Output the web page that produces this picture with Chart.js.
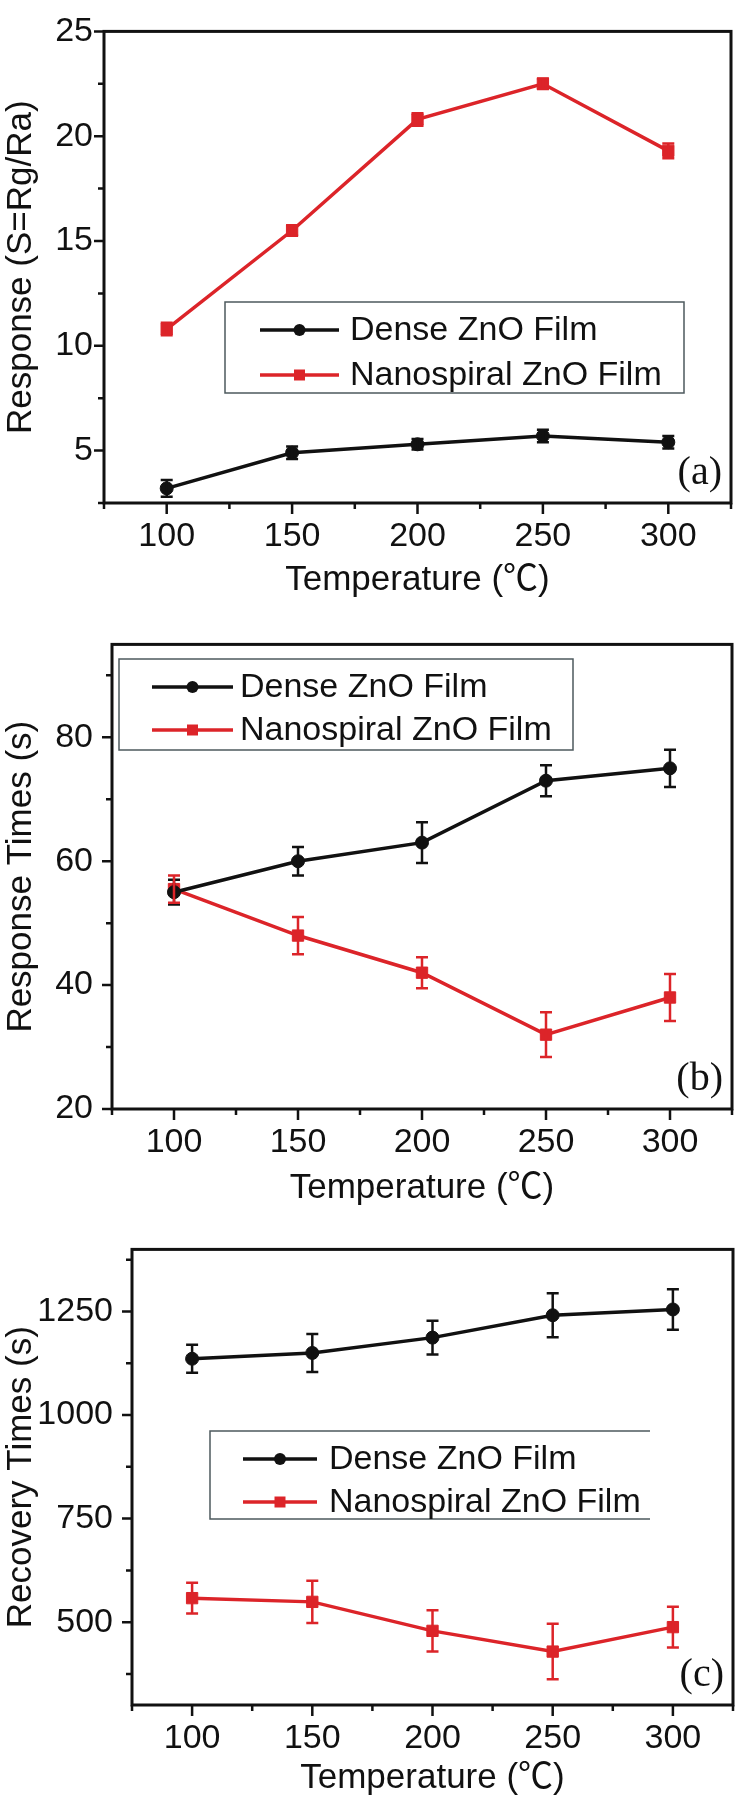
<!DOCTYPE html>
<html>
<head>
<meta charset="utf-8">
<script src="https://cdn.jsdelivr.net/npm/chart.js@4.4.1/dist/chart.umd.min.js"></script>
<style>
  body { margin: 0; background: #fff; width: 743px; height: 1810px; position: relative; overflow: hidden; }
  canvas { position: absolute; left: 0; }
</style>
</head>
<body>
<canvas id="chartA" width="743" height="605" style="top:0"></canvas>
<canvas id="chartB" width="743" height="605" style="top:605px"></canvas>
<canvas id="chartC" width="743" height="600" style="top:1210px"></canvas>
<script>
// temperatures (deg C)
const temps = [100, 150, 200, 250, 300];

// (a) response S = Rg/Ra
const denseResponse = [3.2, 4.9, 5.3, 5.7, 5.4];
const denseResponseErr = [0.4, 0.3, 0.25, 0.3, 0.3];
const nanoResponse = [10.8, 15.5, 20.8, 22.5, 19.3];
const nanoResponseErr = [0.3, 0.25, 0.3, 0.25, 0.35];

// (b) response times (s)
const denseRespTime = [55, 60, 63, 73, 75];
const denseRespTimeErr = [2, 2.3, 3.3, 2.5, 3];
const nanoRespTime = [55.5, 48, 42, 32, 38];
const nanoRespTimeErr = [2.2, 3, 2.5, 3.6, 3.8];

// (c) recovery times (s)
const denseRecovery = [1136, 1150, 1187, 1241, 1255];
const denseRecoveryErr = [34, 46, 41, 53, 49];
const nanoRecovery = [558, 549, 479, 429, 488];
const nanoRecoveryErr = [37, 51, 50, 67, 49];

// ticks
const xTicks = [100, 150, 200, 250, 300];
const xMinor = [75, 125, 175, 225, 275, 325];
const responseTicks = [5, 10, 15, 20, 25];
const responseMinor = [2.5, 7.5, 12.5, 17.5, 22.5];
const respTimeTicks = [20, 40, 60, 80];
const respTimeMinor = [30, 50, 70, 90];
const recoveryTicks = [500, 750, 1000, 1250];
const recoveryMinor = [375, 625, 875, 1125, 1375];

const seriesNames = ['Dense ZnO Film', 'Nanospiral ZnO Film'];
const FONT = '"Liberation Sans", "Noto Sans CJK SC", sans-serif';
const BLACK = '#111';
const RED = '#dc2429';

// box round the plot + tick marks + panel letter
const frame = {
  id: 'frame',
  afterDatasetsDraw(chart, args, o) {
    const { ctx, chartArea: a, scales: { x, y } } = chart;
    ctx.save();
    ctx.strokeStyle = BLACK;
    ctx.lineWidth = 3;
    ctx.strokeRect(a.left, a.top, a.right - a.left, a.bottom - a.top);
    ctx.lineWidth = 2.5;
    ctx.beginPath();
    x.ticks.forEach(t => { const p = x.getPixelForValue(t.value); ctx.moveTo(p, a.bottom); ctx.lineTo(p, a.bottom + 11); });
    o.xMinor.forEach(v => { const p = x.getPixelForValue(v); ctx.moveTo(p, a.bottom); ctx.lineTo(p, a.bottom + 6); });
    y.ticks.forEach(t => { const p = y.getPixelForValue(t.value); ctx.moveTo(a.left, p); ctx.lineTo(a.left - 10, p); });
    o.yMinor.forEach(v => { const p = y.getPixelForValue(v); ctx.moveTo(a.left, p); ctx.lineTo(a.left - 6, p); });
    ctx.stroke();
    ctx.fillStyle = BLACK;
    ctx.font = '40px "Liberation Serif", serif';
    ctx.textAlign = 'right';
    ctx.textBaseline = 'alphabetic';
    ctx.fillText(o.tag, a.right - 9, a.bottom - 19);
    ctx.restore();
  }
};

const errorBars = {
  id: 'errorBars',
  afterDatasetsDraw(chart) {
    const { ctx, scales: { x, y } } = chart;
    chart.data.datasets.forEach(ds => {
      ctx.save();
      ctx.strokeStyle = ds.borderColor;
      ctx.lineWidth = 2.5;
      ctx.beginPath();
      ds.data.forEach((p, i) => {
        const px = x.getPixelForValue(p.x);
        const hi = y.getPixelForValue(p.y + ds.errors[i]);
        const lo = y.getPixelForValue(p.y - ds.errors[i]);
        ctx.moveTo(px, hi); ctx.lineTo(px, lo);
        ctx.moveTo(px - 6, hi); ctx.lineTo(px + 6, hi);
        ctx.moveTo(px - 6, lo); ctx.lineTo(px + 6, lo);
      });
      ctx.stroke();
      ctx.restore();
    });
  }
};

const legendBox = {
  id: 'legendBox',
  afterDraw(chart, args, o) {
    const { ctx } = chart;
    const b = o.box;
    ctx.save();
    ctx.strokeStyle = '#4d5a5e';
    ctx.lineWidth = 1.5;
    ctx.beginPath();
    if (o.openRight) {
      ctx.moveTo(b.x + b.w, b.y); ctx.lineTo(b.x, b.y); ctx.lineTo(b.x, b.y + b.h); ctx.lineTo(b.x + b.w, b.y + b.h);
    } else {
      ctx.rect(b.x, b.y, b.w, b.h);
    }
    ctx.stroke();
    chart.data.datasets.forEach((ds, i) => {
      const yy = o.rows[i];
      ctx.strokeStyle = ds.borderColor;
      ctx.lineWidth = 3.5;
      ctx.beginPath();
      ctx.moveTo(o.line[0], yy); ctx.lineTo(o.line[1], yy);
      ctx.stroke();
      const cx = (o.line[0] + o.line[1]) / 2;
      ctx.fillStyle = ds.pointBackgroundColor;
      ctx.beginPath();
      if (ds.pointStyle === 'rect') ctx.rect(cx - 5.5, yy - 5.5, 11, 11);
      else ctx.arc(cx, yy, 6, 0, Math.PI * 2);
      ctx.fill();
      ctx.fillStyle = BLACK;
      ctx.font = '34px ' + FONT;
      ctx.textAlign = 'left';
      ctx.textBaseline = 'middle';
      ctx.fillText(ds.label, o.textX, yy + 1);
    });
    ctx.restore();
  }
};

function series(name, vals, errs, color, style) {
  return {
    label: name,
    data: temps.map((t, i) => ({ x: t, y: vals[i] })),
    errors: errs,
    borderColor: color,
    borderWidth: 3.5,
    pointStyle: style,
    pointRadius: style === 'rect' ? 8 : 6.5,
    pointBackgroundColor: color,
    pointBorderColor: color,
    pointBorderWidth: 1,
    tension: 0
  };
}

function makeChart(id, cfg) {
  new Chart(document.getElementById(id), {
    type: 'line',
    data: {
      datasets: [
        series(seriesNames[0], cfg.dense, cfg.denseErr, BLACK, 'circle'),
        series(seriesNames[1], cfg.nano, cfg.nanoErr, RED, 'rect')
      ]
    },
    options: {
      responsive: false,
      animation: false,
      devicePixelRatio: 1,
      layout: { padding: { top: cfg.top, right: cfg.right, left: 0, bottom: 0 } },
      plugins: {
        legend: { display: false },
        tooltip: { enabled: false },
        frame: { xMinor: xMinor, yMinor: cfg.yMinor, tag: cfg.tag },
        legendBox: cfg.legend
      },
      scales: {
        x: {
          type: 'linear',
          min: 75,
          max: 325,
          afterBuildTicks: s => { s.ticks = xTicks.map(v => ({ value: v })); },
          afterFit: s => { s.height = cfg.xHeight; },
          grid: { display: false, drawTicks: false },
          border: { display: false },
          ticks: { padding: 13, color: BLACK, font: { family: FONT, size: 34 }, maxRotation: 0, callback: v => String(v) },
          title: { display: true, text: 'Temperature (℃)', color: BLACK, font: { family: FONT, size: 35 }, padding: { top: 0, bottom: cfg.xTitlePad } }
        },
        y: {
          type: 'linear',
          min: cfg.yMin,
          max: cfg.yMax,
          afterBuildTicks: s => { s.ticks = cfg.yTicks.map(v => ({ value: v })); },
          afterFit: s => { s.width = cfg.yWidth; },
          grid: { display: false, drawTicks: false },
          border: { display: false },
          ticks: { padding: cfg.yPad, color: BLACK, font: { family: FONT, size: 34 }, callback: v => String(v) },
          title: { display: true, text: cfg.yTitle, color: BLACK, font: { family: FONT, size: 35 }, padding: { top: 0, bottom: 0 } }
        }
      }
    },
    plugins: [errorBars, frame, legendBox]
  });
}

makeChart('chartA', {
  dense: denseResponse, denseErr: denseResponseErr, nano: nanoResponse, nanoErr: nanoResponseErr,
  yMin: 2.5, yMax: 25, yTicks: responseTicks, yMinor: responseMinor, yTitle: 'Response (S=Rg/Ra)',
  top: 22, right: 12, yWidth: 104, xHeight: 102, yPad: 11, xTitlePad: 4, tag: '(a)',
  legend: { box: { x: 225, y: 302, w: 459, h: 91 }, line: [260, 339], rows: [330, 375], textX: 350 }
});

makeChart('chartB', {
  dense: denseRespTime, denseErr: denseRespTimeErr, nano: nanoRespTime, nanoErr: nanoRespTimeErr,
  yMin: 20, yMax: 95, yTicks: respTimeTicks, yMinor: respTimeMinor, yTitle: 'Response Times (s)',
  top: 28, right: 11, yWidth: 112, xHeight: 101, yPad: 19, xTitlePad: 1, tag: '(b)',
  legend: { box: { x: 119, y: 54, w: 454, h: 91 }, line: [152, 233], rows: [82, 125], textX: 240 }
});

makeChart('chartC', {
  dense: denseRecovery, denseErr: denseRecoveryErr, nano: nanoRecovery, nanoErr: nanoRecoveryErr,
  yMin: 300, yMax: 1400, yTicks: recoveryTicks, yMinor: recoveryMinor, yTitle: 'Recovery Times (s)',
  top: 33, right: 10, yWidth: 132, xHeight: 105, yPad: 19, xTitlePad: 11, tag: '(c)',
  legend: { box: { x: 210, y: 221, w: 440, h: 88 }, openRight: true, line: [243, 317], rows: [249, 292], textX: 329 }
});
</script>
</body>
</html>
